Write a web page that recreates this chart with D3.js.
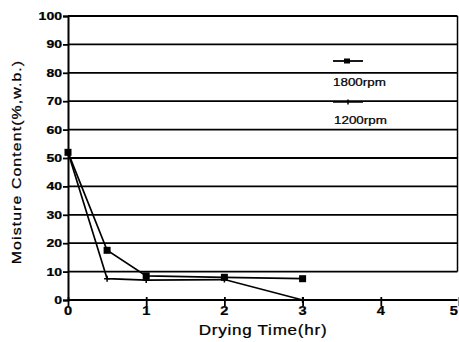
<!DOCTYPE html>
<html><head><meta charset="utf-8">
<script src="https://cdn.jsdelivr.net/npm/d3@7"></script>
<style>html,body{margin:0;padding:0;background:#fff;}svg{display:block;}</style>
</head><body>
<script>
const timeHr = [0, 0.5, 1, 2, 3];
const rpm1800 = [52, 17.5, 8.5, 8, 7.5];
const rpm1200 = [52, 7.5, 7, 7.2, 0];
const xTicks = [0, 1, 2, 3, 4, 5];
const yTicks = [0, 10, 20, 30, 40, 50, 60, 70, 80, 90, 100];
const seriesNames = ["1800rpm", "1200rpm"];

const W = 459, H = 342;
const svg = d3.select("body").append("svg").attr("width", W).attr("height", H);
const x = d3.scaleLinear().domain([0, 5]).range([68, 459]);
const y = d3.scaleLinear().domain([0, 100]).range([300, 16]);
const FONT = "'Liberation Sans', Arial, sans-serif";
const SX = 1.22;

function stretchText(g, tx, ty, txt, size, anchor, weight, rot) {
  return g.append("text")
    .attr("transform", `translate(${tx},${ty})` + (rot ? ` rotate(${rot})` : "") + ` scale(${SX},1)`)
    .attr("text-anchor", anchor).attr("font-family", FONT)
    .attr("font-size", size).attr("font-weight", weight || "normal")
    .attr("fill", "#000").attr("stroke", "#000").attr("stroke-width", 0.25).text(txt);
}

// gridlines
svg.append("g").selectAll("line").data(yTicks).join("line")
  .attr("x1", x(0)).attr("x2", x(5) - 1.5)
  .attr("y1", d => y(d)).attr("y2", d => y(d))
  .attr("stroke", "#000").attr("stroke-width", 1.8);

// right border
svg.append("line").attr("x1", x(5) - 1.5).attr("x2", x(5) - 1.5)
  .attr("y1", y(100)).attr("y2", y(10))
  .attr("stroke", "#000").attr("stroke-width", 1.5);

// y axis
const yAxis = svg.append("g").attr("transform", `translate(${x(0)},0)`)
  .call(d3.axisLeft(y).tickValues(yTicks).tickSize(5).tickFormat(""));
yAxis.select(".domain").attr("stroke", "#000").attr("stroke-width", 2);
yAxis.selectAll(".tick line").attr("stroke", "#000").attr("stroke-width", 1.8);
const ylab = svg.append("g");
yTicks.forEach(t => stretchText(ylab, 62, y(t) + 4, String(t), 11.5, "end", "bold"));

// x axis
const xAxis = svg.append("g").attr("transform", `translate(0,${y(0) + 3})`)
  .call(d3.axisBottom(x).tickValues(xTicks).tickSize(3).tickFormat(""));
xAxis.select(".domain").remove();
xAxis.selectAll(".tick line").attr("stroke", "#000").attr("stroke-width", 1.8).attr("y1", -6);
const xlab = svg.append("g");
xTicks.forEach(t => stretchText(xlab, t === 5 ? x(t) - 1 : x(t), 315, String(t), 12, t === 5 ? "end" : "middle", "bold"));

// axis titles
stretchText(svg, 263, 335, "Drying Time(hr)", 14, "middle", "normal").attr("letter-spacing", 0.6);
stretchText(svg, 21, 162, "Moisture Content(%,w.b.)", 13, "middle", "normal", -90).attr("letter-spacing", 0.9);

// series
const line = d3.line().x(d => x(d[0])).y(d => y(d[1]));
const d1800 = timeHr.map((t, i) => [t, rpm1800[i]]);
const d1200 = timeHr.map((t, i) => [t, rpm1200[i]]);

svg.append("path").datum(d1200).attr("d", line)
  .attr("fill", "none").attr("stroke", "#000").attr("stroke-width", 1.7);
svg.append("path").datum(d1800).attr("d", line)
  .attr("fill", "none").attr("stroke", "#000").attr("stroke-width", 1.7);

// markers 1800: filled squares
svg.append("g").selectAll("rect").data(d1800).join("rect")
  .attr("x", d => x(d[0]) - 3.5).attr("y", d => y(d[1]) - 3.5)
  .attr("width", 7).attr("height", 7).attr("fill", "#000");
// markers 1200: plus
svg.append("g").selectAll("path").data(d1200).join("path")
  .attr("d", d => `M${x(d[0]) - 3},${y(d[1])}h6M${x(d[0])},${y(d[1]) - 3}v6`)
  .attr("stroke", "#000").attr("stroke-width", 1.5);

// legend
const lg = svg.append("g");
lg.append("line").attr("x1", 333).attr("x2", 363).attr("y1", 61).attr("y2", 61)
  .attr("stroke", "#000").attr("stroke-width", 1.8);
lg.append("rect").attr("x", 344).attr("y", 58.5).attr("width", 6).attr("height", 5).attr("fill", "#000");
stretchText(lg, 333, 86, seriesNames[0], 11, "start", "normal");
lg.append("line").attr("x1", 333).attr("x2", 363).attr("y1", 102).attr("y2", 102)
  .attr("stroke", "#000").attr("stroke-width", 1.5);
lg.append("path").attr("d", "M348,99.5v5").attr("stroke", "#000").attr("stroke-width", 1.5);
stretchText(lg, 334, 124, seriesNames[1], 11, "start", "normal");
</script>
</body></html>
